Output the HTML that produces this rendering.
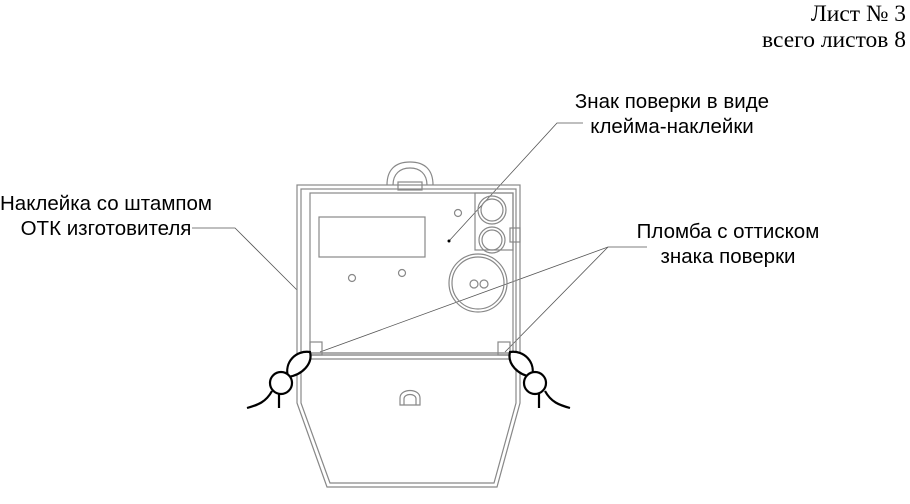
<!DOCTYPE html>
<html><head><meta charset="utf-8"><style>
html,body{margin:0;padding:0;background:#fff;}
svg{display:block;}
.s{font-family:"Liberation Sans",sans-serif;font-size:20.5px;fill:#000;}
.r{font-family:"Liberation Serif",serif;font-size:23.5px;fill:#000;}
</style></head><body>
<svg width="910" height="504" viewBox="0 0 910 504">
<text class="r" x="906" y="21" text-anchor="end">Лист № 3</text>
<text class="r" x="906" y="47" text-anchor="end">всего листов 8</text>
<text class="s" x="106" y="210" text-anchor="middle">Наклейка со штампом</text>
<text class="s" x="106" y="235" text-anchor="middle">ОТК изготовителя</text>
<text class="s" x="672" y="108" text-anchor="middle">Знак поверки в виде</text>
<text class="s" x="672" y="133" text-anchor="middle">клейма-наклейки</text>
<text class="s" x="728" y="238" text-anchor="middle">Пломба с оттиском</text>
<text class="s" x="728" y="263" text-anchor="middle">знака поверки</text>
<g fill="none" stroke="#555" stroke-width="0.8">
<polyline points="192,228 235,228 297,290"/>
<polyline points="583,123 557,123 449,241"/>
<polyline points="647,247 608,247 320,352"/>
<line x1="608" y1="247" x2="505" y2="352"/>
</g>
<g fill="none" stroke="#888" stroke-width="1.2">
<path d="M387,185 C387,170 395,162 410,162 C425,162 433,170 433,185"/>
<path d="M393,185 C393,174 400,168 410,168 C420,168 427,174 427,185"/>
<rect x="398" y="182" width="24" height="8"/>
<rect x="297" y="185" width="223" height="170"/>
<rect x="301" y="189" width="215" height="164"/>
<rect x="310" y="193" width="203" height="160"/>
<rect x="319" y="217" width="106" height="40"/>
<circle cx="352" cy="278" r="3.5"/><circle cx="402" cy="273" r="3.5"/><circle cx="458" cy="213" r="3.5"/>
<rect x="475" y="193" width="38" height="57"/>
<circle cx="492" cy="210" r="14"/><circle cx="492" cy="210" r="11"/>
<circle cx="492" cy="240" r="13"/><circle cx="492" cy="240" r="10"/>
<rect x="510" y="228" width="10" height="14"/>
<circle cx="478" cy="283" r="29"/><circle cx="478" cy="283" r="26"/>
<circle cx="474" cy="284" r="4"/><circle cx="484" cy="284" r="4"/>
<rect x="310" y="342" width="12" height="13"/><rect x="498" y="342" width="12" height="13"/>
<path d="M297,355 L520,355 L520,403 L497,487 L327,487 L297,403 Z"/>
<path d="M301,359 L516,359 L516,403 L494,483 L330,483 L301,403 Z"/>
<path d="M400,405 L400,398 C400,388 420,388 420,398 L420,405 Z"/>
<path d="M404,405 L404,399 C404,393 416,393 416,399 L416,405"/>
</g>
<g fill="#fff" stroke="#000" stroke-width="2.2">
<path d="M310,352 C296,350 284,362 288,377 C302,375 313,364 310,352 Z"/>
<circle cx="281" cy="383" r="11"/>
<path d="M247,408 C258,405 266,402 272,391" fill="none"/>
<line x1="279" y1="394" x2="279" y2="408"/>
<path d="M510,352 C524,350 536,362 532,377 C518,375 507,364 510,352 Z"/>
<circle cx="535" cy="383" r="11"/>
<path d="M570,408 C559,405 551,402 545,391" fill="none"/>
<line x1="539" y1="394" x2="539" y2="408"/>
</g>
<circle cx="449" cy="241" r="1.5" fill="#000"/>
</svg>
</body></html>
